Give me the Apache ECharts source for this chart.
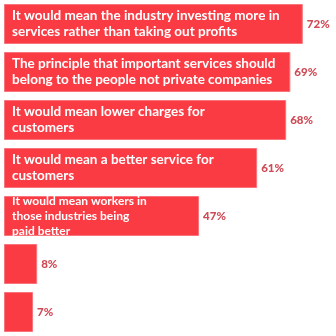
<!DOCTYPE html>
<html>
<head>
<meta charset="utf-8">
<script src="https://cdn.jsdelivr.net/npm/echarts@6/dist/echarts.min.js"></script>
<style>
  html, body { margin: 0; padding: 0; background: #ffffff; }
  #chart { width: 336px; height: 336px; }
</style>
</head>
<body>
<div id="chart"></div>
<script>
// Reasons given, top to bottom; the last two bars carry no text
const reasons = [
  'It would mean the industry investing more in\nservices rather than taking out profits',
  'The principle that important services should\nbelong to the people not private companies',
  'It would mean lower charges for\ncustomers',
  'It would mean a better service for\ncustomers',
  'It would mean workers in\nthose industries being\npaid better',
  '',
  ''
];
const shares = [72, 69, 68, 61, 47, 8, 7];

// three-line captions are set a little smaller so they fit the bar
const barData = shares.map((v, i) => {
  const lines = reasons[i].split('\n').length;
  return lines > 2
    ? { value: v, label: { fontSize: 12, lineHeight: 15 } }
    : { value: v };
});

const chart = echarts.init(document.getElementById('chart'));
chart.setOption({
  animation: false,
  grid: { left: 4, top: -1, width: 335.5, height: 350, containLabel: false },
  xAxis: { type: 'value', min: 0, max: 80, show: false },
  yAxis: {
    type: 'category', data: reasons, inverse: true, show: false
  },
  series: [
    {
      type: 'bar',
      data: barData,
      barWidth: 40,
      itemStyle: { color: '#fa3b43', borderColor: '#f8747c', borderWidth: 1 },
      label: {
        show: true,
        position: 'insideLeft',
        distance: 8,
        formatter: p => reasons[p.dataIndex],
        color: '#ffffff',
        fontFamily: 'Lato',
        fontWeight: 'bold',
        fontSize: 13.5,
        lineHeight: 16
      },
      z: 2
    },
    {
      type: 'bar',
      data: shares,
      barWidth: 40,
      barGap: '-100%',
      itemStyle: { color: 'rgba(0,0,0,0)' },
      label: {
        show: true,
        position: 'right',
        distance: 4,
        formatter: p => p.value + '%',
        color: '#cf4a55',
        fontFamily: 'Lato',
        fontWeight: 900,
        fontSize: 11.5
      },
      z: 3
    }
  ]
});
</script>
</body>
</html>
